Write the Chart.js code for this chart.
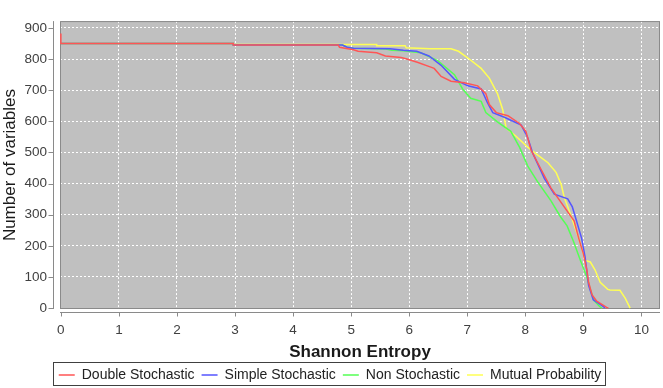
<!DOCTYPE html>
<html>
<head>
<meta charset="utf-8">
<script src="https://cdn.jsdelivr.net/npm/chart.js@4.4.0/dist/chart.umd.min.js"></script>
<style>
  html, body { margin: 0; padding: 0; background: #ffffff; }
</style>
</head>
<body>
<canvas id="entropyChart" width="663" height="388"></canvas>
<script>
// values: [entropy, number of variables]
const doubleStochastic = [
    [0, 882], [0, 850], [2.97, 850], [2.97, 845], [4.78, 845], [4.8, 838], [5.04, 830], [5.12, 825],
    [5.44, 820], [5.59, 810], [5.86, 805], [5.96, 800], [6.14, 790], [6.36, 775], [6.43, 770],
    [6.55, 744], [6.72, 729], [6.95, 724], [7.18, 714], [7.32, 689], [7.38, 654], [7.5, 628],
    [7.7, 618], [7.9, 593], [8.01, 568], [8.1, 507], [8.27, 446], [8.44, 386], [8.67, 325],
    [8.84, 280], [8.92, 224], [9.0, 174], [9.06, 123], [9.09, 83], [9.15, 42], [9.23, 22],
    [9.4, 2], [9.43, 0]
];
const simpleStochastic = [
    [0, 850], [2.97, 850], [2.97, 845], [4.85, 845], [4.93, 838], [5.04, 835], [5.67, 833],
    [5.9, 828], [6.13, 825], [6.24, 817], [6.34, 810], [6.55, 780], [6.78, 735], [7.01, 714],
    [7.24, 704], [7.35, 659], [7.44, 628], [7.64, 613], [7.93, 588], [8.04, 548], [8.13, 497],
    [8.33, 416], [8.5, 366], [8.73, 351], [8.81, 325], [8.89, 275], [8.97, 224], [9.03, 164],
    [9.09, 73], [9.17, 27], [9.29, 12], [9.35, 4], [9.37, 0]
];
const nonStochastic = [
    [0, 850], [2.97, 850], [2.97, 845], [4.85, 845], [4.93, 838], [5.04, 835], [5.6, 832],
    [5.7, 828], [5.9, 827], [6.2, 820], [6.49, 795], [6.78, 750], [6.92, 704], [7.06, 674],
    [7.24, 664], [7.32, 628], [7.52, 598], [7.75, 568], [7.9, 517], [8.04, 457], [8.21, 406],
    [8.44, 345], [8.6, 295], [8.72, 264], [8.83, 214], [8.95, 153], [9.06, 100], [9.12, 60],
    [9.18, 25], [9.28, 5], [9.32, 0]
];
const mutualProbability = [
    [0, 850], [2.97, 850], [2.97, 847], [5.44, 847], [5.44, 843], [5.93, 843], [5.95, 836],
    [6.36, 833], [6.72, 833], [6.85, 825], [7.0, 805], [7.24, 770], [7.38, 739], [7.52, 689],
    [7.61, 638], [7.67, 578], [7.84, 552], [8.04, 517], [8.21, 492], [8.39, 467], [8.53, 436],
    [8.62, 396], [8.67, 356], [8.79, 295], [8.89, 240], [8.97, 194], [9.03, 153], [9.12, 148],
    [9.2, 123], [9.29, 83], [9.42, 60], [9.46, 58], [9.63, 57], [9.72, 32], [9.8, 2], [9.81, 0]
];

const seriesNames = ['Double Stochastic', 'Simple Stochastic', 'Non Stochastic', 'Mutual Probability'];
const seriesColors = ['#ff5555', '#5555ff', '#55ff55', '#ffff55'];
const seriesData = [doubleStochastic, simpleStochastic, nonStochastic, mutualProbability];

const xTitle = 'Shannon Entropy';
const yTitle = 'Number of variables';

const fontFamily = '"Liberation Sans", Arial, sans-serif';

// grey plot background, outline, offset axis lines and legend frame
const plotFrame = {
    id: 'plotFrame',
    beforeDraw(chart) {
        const { ctx, chartArea: a } = chart;
        ctx.save();
        ctx.fillStyle = '#c0c0c0';
        ctx.fillRect(a.left, a.top, a.right - a.left, a.bottom - a.top);
        ctx.restore();
    },
    beforeDatasetsDraw(chart) {
        const { ctx, chartArea: a } = chart;
        ctx.save();
        ctx.strokeStyle = '#8a8a8a';
        ctx.lineWidth = 1;
        ctx.strokeRect(a.left + 0.5, a.top + 0.5, a.right - a.left - 1, a.bottom - a.top - 1);
        ctx.restore();
    },
    afterDraw(chart) {
        const { ctx, chartArea: a, scales } = chart;
        ctx.save();
        ctx.strokeStyle = '#8a8a8a';
        ctx.lineWidth = 1;

        // y axis line and tick marks
        const ax = Math.round(a.left) - 6.5;
        ctx.beginPath();
        ctx.moveTo(ax, a.top);
        ctx.lineTo(ax, a.bottom);
        scales.y.ticks.forEach(t => {
            const py = Math.round(scales.y.getPixelForValue(t.value)) + 0.5;
            ctx.moveTo(ax - 5, py);
            ctx.lineTo(ax, py);
        });
        // x axis line and tick marks
        const ay = Math.round(a.bottom) + 3.5;
        ctx.moveTo(a.left, ay);
        ctx.lineTo(a.right, ay);
        scales.x.ticks.forEach(t => {
            const px = Math.round(scales.x.getPixelForValue(t.value)) + 0.5;
            ctx.moveTo(px, ay);
            ctx.lineTo(px, ay + 4);
        });
        ctx.stroke();

        // frame around the legend
        const boxes = chart.legend.legendHitBoxes;
        if (boxes && boxes.length) {
            const first = boxes[0];
            const last = boxes[boxes.length - 1];
            const l = Math.round(first.left) - 5.5;
            const r = Math.round(last.left + last.width) + 4.5;
            const t = Math.round(first.top) - 5.5;
            const b = Math.round(first.top + first.height) + 3.5;
            ctx.strokeStyle = '#404040';
            ctx.strokeRect(l, t, r - l, b - t);
        }
        ctx.restore();
    }
};

const ctx = document.getElementById('entropyChart').getContext('2d');
const entropyChart = new Chart(ctx, {
    type: 'scatter',
    data: {
        datasets: seriesData.map((pts, i) => ({
            label: seriesNames[i],
            data: pts.map(p => ({ x: p[0], y: p[1] })),
            showLine: true,
            borderColor: seriesColors[i],
            backgroundColor: seriesColors[i],
            borderWidth: 1.5,
            pointRadius: 0,
            pointHoverRadius: 0,
            pointStyle: 'line',
            tension: 0
        }))
    },
    options: {
        responsive: false,
        animation: false,
        layout: {
            padding: { top: 3, right: 3, left: 0, bottom: -4 }
        },
        plugins: {
            tooltip: { enabled: false },
            legend: {
                position: 'bottom',
                labels: {
                    usePointStyle: true,
                    pointStyleWidth: 16,
                    boxHeight: 14,
                    padding: 7,
                    color: '#222222',
                    font: { family: fontFamily, size: 14, lineHeight: 1 }
                }
            }
        },
        scales: {
            x: {
                type: 'linear',
                min: -0.015,
                max: 10.32,
                afterFit: s => { s.height = 52; },
                ticks: {
                    stepSize: 1,
                    includeBounds: false,
                    padding: 13,
                    maxRotation: 0,
                    color: '#404040',
                    font: { family: fontFamily, size: 13.5 }
                },
                grid: {
                    color: '#ffffff',
                    lineWidth: 1,
                    drawTicks: false
                },
                border: { display: false, dash: [2, 2] },
                title: {
                    display: true,
                    text: xTitle,
                    color: '#1a1a1a',
                    padding: { top: 0, bottom: -2 },
                    font: { family: fontFamily, size: 17, weight: 'bold' }
                }
            },
            y: {
                type: 'linear',
                min: -3,
                max: 922,
                afterFit: s => { s.width = 60; },
                ticks: {
                    stepSize: 100,
                    includeBounds: false,
                    padding: 13,
                    color: '#404040',
                    font: { family: fontFamily, size: 13.5 }
                },
                grid: {
                    color: '#ffffff',
                    lineWidth: 1,
                    drawTicks: false
                },
                border: { display: false, dash: [2, 2] },
                title: {
                    display: true,
                    text: yTitle,
                    color: '#1a1a1a',
                    padding: { top: 0, bottom: 0 },
                    font: { family: fontFamily, size: 17 }
                }
            }
        }
    },
    plugins: [plotFrame]
});
</script>
</body>
</html>
